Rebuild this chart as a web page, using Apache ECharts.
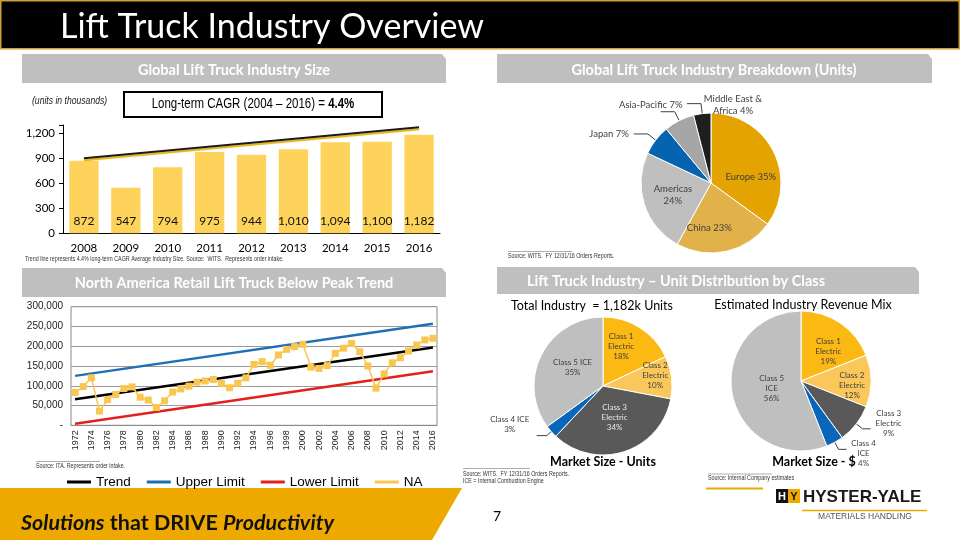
<!DOCTYPE html>
<html><head><meta charset="utf-8">
<script src="https://cdn.jsdelivr.net/npm/echarts@6/dist/echarts.min.js"></script>
<style>html,body{margin:0;padding:0;background:#fff}#c{width:960px;height:540px}</style>
</head><body><div id="c"></div>
<script>
// ---------- DATA ----------
const sizeYears = ['2008','2009','2010','2011','2012','2013','2014','2015','2016'];
const sizeValues = [872, 547, 794, 975, 944, 1010, 1094, 1100, 1182];
const sizeTrendEnds = [900, 1272];            // CAGR trend line at 2008 and 2016
const sizeTicks = [0, 300, 600, 900, 1200];

const regionNames = ['Europe', 'China', 'Americas', 'Japan', 'Asia-Pacific', 'Middle East & Africa'];
const regionShares = [35, 23, 24, 7, 7, 4];

const naYears = ['1972','1973','1974','1975','1976','1977','1978','1979','1980','1981','1982','1983','1984','1985','1986','1987','1988','1989','1990','1991','1992','1993','1994','1995','1996','1997','1998','1999','2000','2001','2002','2003','2004','2005','2006','2007','2008','2009','2010','2011','2012','2013','2014','2015','2016'];
const naValues = [83000, 98000, 120000, 36000, 65000, 78000, 93000, 97000, 71000, 64000, 45000, 62000, 84000, 92000, 99000, 109000, 112000, 116000, 106000, 95000, 106000, 120000, 154000, 161000, 152000, 178000, 192000, 199000, 205000, 147000, 144000, 151000, 182000, 195000, 207000, 186000, 150000, 94000, 130000, 158000, 171000, 188000, 203000, 216000, 220000];
const trendEnds = [66000, 197000];
const upperEnds = [125000, 257000];
const lowerEnds = [4000, 137000];
const naTicks = [0, 50000, 100000, 150000, 200000, 250000, 300000];

const classNames = ['Class 1 Electric', 'Class 2 Electric', 'Class 3 Electric', 'Class 4 ICE', 'Class 5 ICE'];
const unitShares = [18, 10, 34, 3, 35];
const revenueShares = [19, 12, 9, 4, 56];

// ---------- STYLE ----------
const FC = 'Lato, "Open Sans", sans-serif';
const FN = '"Liberation Sans", Arial, sans-serif';
const regionColors = ['#E3A300', '#E2B24A', '#BFBFBF', '#0563B0', '#A6A6A6', '#1E1E1E'];
const classColors = ['#FDB913', '#F9C75A', '#595959', '#0A66B8', '#BFBFBF'];

function ends(pair, n) { const d = new Array(n).fill(null); d[0] = pair[0]; d[n - 1] = pair[1]; return d; }

const labelOffsets = {
  regions: { 0: [6, 11], 1: [-10, 8], 2: [-2, 0], 4: [27, -7], 5: [51, 1, 'center'] },
  units: { 0: [-2, -8], 1: [15, -6], 2: [0, -4], 3: [-22, -11, 'center'], 4: [3, -2] },
  revenue: { 0: [6, 2], 1: [13, 4], 2: [13, -5, 'center'], 3: [12, 4, 'center'], 4: [8, 0] }
};
function layoutFor(id) {
  return function (p) {
    const o = labelOffsets[id][p.dataIndex];
    if (!o) return {};
    const r = { dx: o[0], dy: o[1] };
    if (o[2]) r.align = o[2];
    return r;
  };
}

const chart = echarts.init(document.getElementById('c'));

// ---------- GRAPHICS (slide furniture) ----------
function txt(x, y, text, font, fill, align, extra) {
  return Object.assign({ type: 'text', x: x, y: y, silent: true,
    style: { text: text, font: font, fill: fill || '#000', align: align || 'left', textAlign: align || 'left', verticalAlign: 'middle', textVerticalAlign: 'middle' } }, extra || {});
}
const NARROW = { scaleX: 0.82 };
function banner(x1, x2, y1, y2) {
  return { type: 'polygon', silent: true, shape: { points: [[x1, y1], [x2 - 4, y1], [x2, y1 + 5], [x2, y2], [x1, y2]] }, style: { fill: '#BFBFBF' } };
}
function hline(x1, x2, y, color, w) {
  return { type: 'line', silent: true, shape: { x1: x1, y1: y, x2: x2, y2: y }, style: { stroke: color, lineWidth: w } };
}
const graphics = [
  { type: 'rect', silent: true, shape: { x: 0.75, y: 0.75, width: 958.5, height: 48 }, style: { fill: '#000', stroke: '#C9A13B', lineWidth: 1.5 } },
  txt(60, 27, 'Lift Truck Industry Overview', '34px Lato', '#fff'),
  banner(22, 446, 54, 83), banner(497, 932, 54, 83), banner(22, 446, 268, 297), banner(497, 919, 267, 294),
  txt(234, 70, 'Global Lift Truck Industry Size', 'bold 14.5px Lato', '#fff', 'center'),
  txt(714, 70, 'Global Lift Truck Industry Breakdown (Units)', 'bold 14.5px Lato', '#fff', 'center'),
  txt(234, 283, 'North America Retail Lift Truck Below Peak Trend', 'bold 14.5px Lato', '#fff', 'center'),
  txt(676, 281, 'Lift Truck Industry \u2013 Unit Distribution by Class', 'bold 14.5px Lato', '#fff', 'center'),
  // bar chart annotations
  txt(32, 101, '(units in thousands)', 'italic 10.5px ' + FN, '#222', 'left', NARROW),
  { type: 'rect', silent: true, shape: { x: 124, y: 92, width: 258, height: 25 }, style: { fill: '#fff', stroke: '#000', lineWidth: 2 } },
  { type: 'text', x: 253, y: 104.5, silent: true, scaleX: 0.82, style: { text: '{a|Long-term CAGR (2004 \u2013 2016) = }{b|4.4%}', align: 'center', textAlign: 'center', verticalAlign: 'middle', textVerticalAlign: 'middle',
      rich: { a: { font: '14px ' + FN, fill: '#000' }, b: { font: 'bold 14px ' + FN, fill: '#000' } } } },
  txt(25, 259, 'Trend line represents 4.4% long-term CAGR Average Industry Size. Source:  WITS.  Represents order intake.', '6.5px ' + FN, '#333', 'left', NARROW),
  // sources
  hline(508, 572, 251.5, '#999', 0.8),
  txt(508, 256, 'Source: WITS.  FY 12/31/16 Orders Reports.', '6.5px ' + FN, '#333', 'left', NARROW),
  hline(36, 100, 461.5, '#999', 0.8),
  txt(36, 466.5, 'Source: ITA. Represents order intake.', '6.5px ' + FN, '#333', 'left', NARROW),
  hline(463, 530, 468.5, '#999', 0.8),
  txt(463, 474, 'Source: WITS.  FY 12/31/16 Orders Reports.', '6.5px ' + FN, '#333', 'left', NARROW),
  txt(463, 481.5, 'ICE = Internal Combustion Engine', '6.5px ' + FN, '#333', 'left', NARROW),
  hline(708, 772, 474, '#999', 0.8),
  txt(708, 478.5, 'Source: Internal Company estimates', '6.5px ' + FN, '#333', 'left', NARROW),
  // pie titles
  txt(592, 306, 'Total Industry  = 1,182k Units', '12.5px Lato', '#000', 'center'),
  txt(803, 305, 'Estimated Industry Revenue Mix', '12.5px Lato', '#000', 'center'),
  txt(603, 462, 'Market Size - Units', 'bold 12.5px Lato', '#000', 'center'),
  txt(814, 462, 'Market Size - $', 'bold 12.5px Lato', '#000', 'center'),
  // footer
  { type: 'polygon', silent: true, shape: { points: [[0, 488], [462, 488], [432, 540], [0, 540]] }, style: { fill: '#EDA900' } },
  { type: 'text', x: 21, y: 523, silent: true, style: { text: '{i|Solutions}{b| that DRIVE }{i|Productivity}', verticalAlign: 'middle', textVerticalAlign: 'middle',
      rich: { i: { font: 'italic bold 21.5px Lato', fill: '#111' }, b: { font: 'bold 21.5px Lato', fill: '#111' } } } },
  txt(497, 516, '7', '14px Lato', '#000', 'center'),
  hline(706, 763, 488.5, '#EDA900', 2),
  { type: 'rect', silent: true, shape: { x: 776, y: 489, width: 12, height: 14 }, style: { fill: '#111' } },
  { type: 'rect', silent: true, shape: { x: 788, y: 489, width: 12, height: 14 }, style: { fill: '#EDA900' } },
  txt(782, 496.5, 'H', 'bold 11px "Liberation Sans"', '#fff', 'center'),
  txt(794, 496.5, 'Y', 'bold 11px "Liberation Sans"', '#111', 'center'),
  txt(803, 497, 'HYSTER-YALE', 'bold 17px "Liberation Sans"', '#1a1a1a'),
  hline(802, 927, 510.5, '#EDA900', 1.5),
  txt(865, 517, 'MATERIALS HANDLING', '8.5px "Liberation Sans"', '#555', 'center')
];

// ---------- OPTION ----------
const option = {
  animation: false,
  backgroundColor: '#fff',
  graphic: { elements: graphics },
  legend: {
    data: ['Trend', 'Upper Limit', 'Lower Limit', 'NA'],
    left: 62, top: 470, icon: 'rect', itemWidth: 24, itemHeight: 3, itemGap: 16, selectedMode: false,
    textStyle: { fontFamily: FN, fontSize: 13.5, color: '#000' }
  },
  grid: [
    { left: 63, width: 377, top: 125, height: 108.3 },
    { left: 71, width: 366, top: 306.7, height: 118.6, show: true, borderColor: '#8a8a8a', borderWidth: 1 }
  ],
  xAxis: [
    { type: 'category', gridIndex: 0, data: sizeYears,
      axisLine: { lineStyle: { color: '#000', width: 1 } }, axisTick: { length: 4, lineStyle: { color: '#000' } },
      axisLabel: { color: '#000', fontFamily: FC, fontSize: 11.5, margin: 9 } },
    { type: 'category', gridIndex: 1, data: naYears,
      axisLine: { lineStyle: { color: '#8a8a8a' } }, axisTick: { show: false },
      axisLabel: { interval: 1, rotate: 90, color: '#222', fontFamily: FN, fontSize: 9, margin: 5 } }
  ],
  yAxis: [
    { type: 'value', gridIndex: 0, min: 0, max: 1300, interval: 300,
      axisLine: { show: true, lineStyle: { color: '#000' } }, axisTick: { show: true, length: 4, lineStyle: { color: '#000' } },
      splitLine: { show: false },
      axisLabel: { color: '#000', fontFamily: FC, fontSize: 11.5, margin: 8,
        formatter: v => sizeTicks.indexOf(v) >= 0 ? v.toLocaleString('en-US') : '' } },
    { type: 'value', gridIndex: 1, min: 0, max: 300000, interval: 50000,
      axisLine: { show: false }, axisTick: { show: false },
      splitLine: { lineStyle: { color: '#9a9a9a', width: 1 } },
      axisLabel: { color: '#222', fontFamily: FN, fontSize: 10, margin: 8,
        formatter: v => naTicks.indexOf(v) >= 0 ? (v === 0 ? '-' : v.toLocaleString('en-US')) : '' } }
  ],
  series: [
    { type: 'bar', name: 'Industry Size', xAxisIndex: 0, yAxisIndex: 0, data: sizeValues, barWidth: '70%',
      itemStyle: { color: '#FDD35B' },
      label: { show: true, position: 'insideBottom', distance: 6, color: '#111', fontFamily: FC, fontSize: 12,
        formatter: p => p.value.toLocaleString('en-US') } },
    { type: 'line', name: 'CAGR Trend', xAxisIndex: 0, yAxisIndex: 0, data: ends(sizeTrendEnds, sizeYears.length), connectNulls: true,
      symbol: 'none', z: 5, lineStyle: { color: '#1a1a1a', width: 2, shadowColor: '#E5AE00', shadowBlur: 1, shadowOffsetY: 2 } },

    { type: 'line', name: 'Trend', xAxisIndex: 1, yAxisIndex: 1, data: ends(trendEnds, naYears.length), connectNulls: true,
      symbol: 'none', itemStyle: { color: '#000' }, lineStyle: { color: '#000', width: 2.5 } },
    { type: 'line', name: 'Upper Limit', xAxisIndex: 1, yAxisIndex: 1, data: ends(upperEnds, naYears.length), connectNulls: true,
      symbol: 'none', itemStyle: { color: '#1F6FB5' }, lineStyle: { color: '#1F6FB5', width: 2.5 } },
    { type: 'line', name: 'Lower Limit', xAxisIndex: 1, yAxisIndex: 1, data: ends(lowerEnds, naYears.length), connectNulls: true,
      symbol: 'none', itemStyle: { color: '#E3201B' }, lineStyle: { color: '#E3201B', width: 2.5 } },
    { type: 'line', name: 'NA', xAxisIndex: 1, yAxisIndex: 1, data: naValues, z: 4, showAllSymbol: true,
      symbol: 'rect', symbolSize: 7, itemStyle: { color: '#F9C74F' }, lineStyle: { color: '#F9C74F', width: 1.5 } },

    { type: 'pie', id: 'regions', name: 'Breakdown', center: [711, 183], radius: 70, startAngle: 90, clockwise: true,
      avoidLabelOverlap: false, itemStyle: { borderColor: '#fff', borderWidth: 1 },
      data: regionNames.map((n, i) => ({ name: n, value: regionShares[i], itemStyle: { color: regionColors[i] },
        label: { position: i < 3 ? 'inside' : 'outside' } })),
      label: { fontFamily: FC, fontSize: 9.5, color: '#404040', lineHeight: 12,
        formatter: p => p.name === 'Americas' ? 'Americas\n' + p.value + '%'
          : p.name === 'Middle East & Africa' ? 'Middle East &\nAfrica ' + p.value + '%' : p.name + ' ' + p.value + '%' },
      labelLine: { length: 10, length2: 14, lineStyle: { color: '#404040', width: 1 } },
      labelLayout: layoutFor('regions') },

    { type: 'pie', id: 'units', name: 'Market Size - Units', center: [603, 386], radius: 69, startAngle: 90, clockwise: true,
      avoidLabelOverlap: false, itemStyle: { borderColor: '#fff', borderWidth: 1 },
      data: classNames.map((n, i) => ({ name: n, value: unitShares[i], itemStyle: { color: classColors[i] },
        label: { position: i === 3 ? 'outside' : 'inside', color: i === 2 ? '#E6E6E6' : '#404040' } })),
      label: { fontFamily: FC, fontSize: 8, lineHeight: 10,
        formatter: p => { const w = p.name.split(' '); return w[2] === 'Electric' ? w[0] + ' ' + w[1] + '\n' + w[2] + '\n' + p.value + '%' : p.name + '\n' + p.value + '%'; } },
      labelLine: { length: 6, length2: 10, lineStyle: { color: '#404040', width: 1 } },
      labelLayout: layoutFor('units') },

    { type: 'pie', id: 'revenue', name: 'Market Size - $', center: [801, 381], radius: 70, startAngle: 90, clockwise: true,
      avoidLabelOverlap: false, itemStyle: { borderColor: '#fff', borderWidth: 1 },
      data: classNames.map((n, i) => ({ name: n, value: revenueShares[i], itemStyle: { color: classColors[i] },
        label: { position: (i === 2 || i === 3) ? 'outside' : 'inside' } })),
      label: { fontFamily: FC, fontSize: 8, lineHeight: 10, color: '#404040',
        formatter: p => { const w = p.name.split(' '); return w[0] + ' ' + w[1] + '\n' + w[2] + '\n' + p.value + '%'; } },
      labelLine: { length: 8, length2: 8, lineStyle: { color: '#404040', width: 1 } },
      labelLayout: layoutFor('revenue') }
  ]
};
chart.setOption(option);
</script></body></html>
